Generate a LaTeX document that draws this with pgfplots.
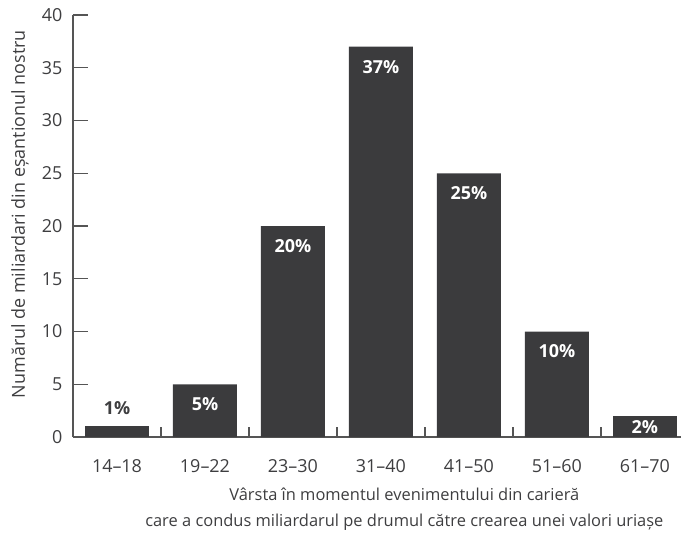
\documentclass[border=0pt]{standalone}
\usepackage{pgfplots}
\pgfplotsset{compat=1.18}
\usepackage{fontspec}
\setmainfont{Open Sans}
\definecolor{barc}{HTML}{3B3B3D}
\definecolor{txt}{HTML}{3E3E40}
\definecolor{axc}{HTML}{555555}
\begin{document}
\begin{tikzpicture}
\begin{axis}[
  scale only axis,
  width=608bp, height=422bp,
  xmin=-0.5, xmax=6.41,
  ymin=0, ymax=40,
  axis lines=left,
  axis line style={axc, line width=1.3bp, -},
  every tick/.style={axc, line width=1.3bp},
  tick align=inside,
  ytick={0,5,...,40},
  major tick length=15bp,
  xtick={0,...,6},
  xticklabels={14--18,19--22,23--30,31--40,41--50,51--60,61--70},
  major x tick style={draw=none},
  extra x ticks={0.5,1.5,...,5.5},
  extra x tick labels={},
  extra x tick style={major tick length=10bp, tick align=inside, major x tick style={draw=axc, line width=1.3bp}},
  tick label style={font=\fontsize{18}{21}\selectfont, text=txt},
  /pgf/number format/assume math mode=true,
  x tick label style={yshift=-4bp},
  y tick label style={xshift=-7bp},
  ylabel={Numărul de miliardari din eșantionul nostru},
  ylabel style={font=\fontsize{18}{21}\selectfont, text=txt, at={(rel axis cs:0,0.528)}, anchor=center, rotate=0, yshift=53bp},
  xlabel={Vârsta în momentul evenimentului din carieră\\care a condus miliardarul pe drumul către crearea unei valori uriașe},
  xlabel style={font=\fontsize{16.5}{26}\selectfont, text=txt, align=center, at={(rel axis cs:0.545,0)}, anchor=north, yshift=-47bp},
  ybar, bar width=64bp, bar shift=0pt,
  nodes near coords,
  point meta=explicit symbolic,
  every node near coord/.append style={font=\bfseries\fontsize{18}{21}\selectfont, text=white, anchor=center},
]
\addplot[fill=barc, draw=none, every node near coord/.append style={yshift=-20bp}]
  coordinates {(1,5)[5\%] (2,20)[20\%] (3,37)[37\%] (4,25)[25\%] (5,10)[10\%]};
\addplot[fill=barc, draw=none, every node near coord/.append style={yshift=18bp, text=txt}]
  coordinates {(0,1)[1\%]};
\addplot[fill=barc, draw=none, every node near coord/.append style={yshift=-11bp}]
  coordinates {(6,2)[2\%]};
\end{axis}
\pgfresetboundingbox
\path (-73bp,-96bp) rectangle (608bp,437bp);
\end{tikzpicture}
\end{document}
